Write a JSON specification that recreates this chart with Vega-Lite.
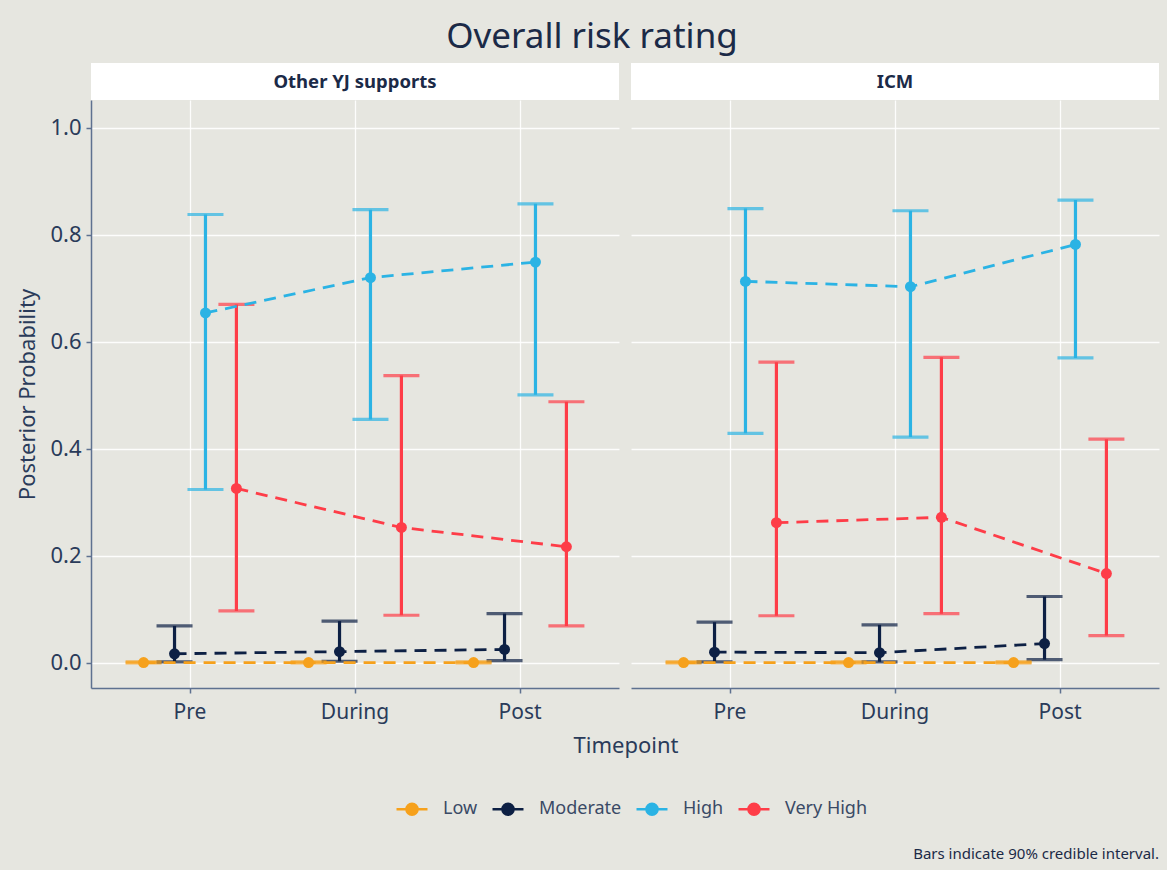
{
  "$schema": "https://vega.github.io/schema/vega-lite/v6.json",
  "background": "#E6E6E0",
  "padding": {"left": 16, "top": 20, "right": 8, "bottom": 8},
  "title": {"text": "Overall risk rating", "fontSize": 35, "font": "Noto Sans", "fontWeight": "normal", "color": "#1B2A47", "anchor": "middle", "offset": 8, "dx": 4},
  "datasets": {
    "est": [
      {"panel": "Other YJ supports", "time": "Pre", "risk": "Low", "est": 0.0005, "lo": 0.0, "hi": 0.002},
      {"panel": "Other YJ supports", "time": "During", "risk": "Low", "est": 0.0005, "lo": 0.0, "hi": 0.002},
      {"panel": "Other YJ supports", "time": "Post", "risk": "Low", "est": 0.0005, "lo": 0.0, "hi": 0.002},
      {"panel": "Other YJ supports", "time": "Pre", "risk": "Moderate", "est": 0.017, "lo": 0.002, "hi": 0.069},
      {"panel": "Other YJ supports", "time": "During", "risk": "Moderate", "est": 0.021, "lo": 0.003, "hi": 0.078},
      {"panel": "Other YJ supports", "time": "Post", "risk": "Moderate", "est": 0.025, "lo": 0.004, "hi": 0.092},
      {"panel": "Other YJ supports", "time": "Pre", "risk": "High", "est": 0.654, "lo": 0.324, "hi": 0.838},
      {"panel": "Other YJ supports", "time": "During", "risk": "High", "est": 0.720, "lo": 0.455, "hi": 0.847},
      {"panel": "Other YJ supports", "time": "Post", "risk": "High", "est": 0.749, "lo": 0.501, "hi": 0.858},
      {"panel": "Other YJ supports", "time": "Pre", "risk": "Very High", "est": 0.326, "lo": 0.097, "hi": 0.670},
      {"panel": "Other YJ supports", "time": "During", "risk": "Very High", "est": 0.253, "lo": 0.089, "hi": 0.537},
      {"panel": "Other YJ supports", "time": "Post", "risk": "Very High", "est": 0.217, "lo": 0.069, "hi": 0.488},
      {"panel": "ICM", "time": "Pre", "risk": "Low", "est": 0.0005, "lo": 0.0, "hi": 0.002},
      {"panel": "ICM", "time": "During", "risk": "Low", "est": 0.0005, "lo": 0.0, "hi": 0.002},
      {"panel": "ICM", "time": "Post", "risk": "Low", "est": 0.0005, "lo": 0.0, "hi": 0.002},
      {"panel": "ICM", "time": "Pre", "risk": "Moderate", "est": 0.020, "lo": 0.002, "hi": 0.076},
      {"panel": "ICM", "time": "During", "risk": "Moderate", "est": 0.019, "lo": 0.002, "hi": 0.071},
      {"panel": "ICM", "time": "Post", "risk": "Moderate", "est": 0.036, "lo": 0.006, "hi": 0.124},
      {"panel": "ICM", "time": "Pre", "risk": "High", "est": 0.713, "lo": 0.429, "hi": 0.849},
      {"panel": "ICM", "time": "During", "risk": "High", "est": 0.703, "lo": 0.422, "hi": 0.845},
      {"panel": "ICM", "time": "Post", "risk": "High", "est": 0.782, "lo": 0.570, "hi": 0.865},
      {"panel": "ICM", "time": "Pre", "risk": "Very High", "est": 0.262, "lo": 0.088, "hi": 0.562},
      {"panel": "ICM", "time": "During", "risk": "Very High", "est": 0.272, "lo": 0.092, "hi": 0.571},
      {"panel": "ICM", "time": "Post", "risk": "Very High", "est": 0.167, "lo": 0.051, "hi": 0.418}
    ]
  },
  "vconcat": [
    {
      "title": {"text": "Bars indicate 90% credible interval.", "orient": "bottom", "anchor": "end", "fontSize": 15, "font": "Noto Sans", "fontWeight": "normal", "color": "#1B2A47", "offset": 90},
      "vconcat": [
        {
          "title": {"text": "Timepoint", "orient": "bottom", "anchor": "middle", "fontSize": 22, "font": "Noto Sans", "fontWeight": "normal", "color": "#2A3B5A", "offset": 14, "dx": 38},
          "spacing": 12,
          "hconcat": [
            {
              "spacing": 0,
              "vconcat": [
                {
                  "width": 528, "height": 37,
                  "view": {"fill": "white", "stroke": null},
                  "data": {"values": [{"label": "Other YJ supports"}]},
                  "mark": {"type": "text", "font": "Noto Sans", "fontWeight": "bold", "fontSize": 18.5, "color": "#1B2A47"},
                  "encoding": {"text": {"field": "label"}}
                },
                {
                  "width": 528, "height": 588,
                  "data": {"name": "est"},
                  "transform": [{"filter": "datum.panel === 'Other YJ supports'"}],
                  "encoding": {
                    "x": {"field": "time", "type": "nominal", "sort": ["Pre", "During", "Post"],
                          "scale": {"paddingInner": 0.25, "paddingOuter": 0.225},
                          "axis": {"title": null, "labelAngle": 0, "bandPosition": 0.5}},
                    "xOffset": {"field": "risk", "type": "nominal", "sort": ["Low", "Moderate", "High", "Very High"], "scale": {"paddingInner": 0, "paddingOuter": 0}},
                    "color": {"field": "risk", "type": "nominal", "sort": ["Low", "Moderate", "High", "Very High"],
                              "scale": {"domain": ["Low", "Moderate", "High", "Very High"], "range": ["#F6A11C", "#0D2044", "#2BB3E4", "#FE3D48"]},
                              "legend": {"orient": "none", "legendX": 304, "legendY": 729, "direction": "horizontal", "title": null,
                                         "symbolType": "M-1,0H1M-0.36,0A0.36,0.36,0,1,1,0.36,0A0.36,0.36,0,1,1,-0.36,0Z",
                                         "symbolSize": 960, "symbolStrokeWidth": 2.5, "labelFontSize": 18, "labelFont": "Noto Sans", "labelColor": "#3A4A66", "columnPadding": 9, "labelOffset": 14,
                                         "encode": {"symbols": {"update": {"fill": {"scale": "color", "field": "value"}, "stroke": {"scale": "color", "field": "value"}, "opacity": {"value": 1}}}}}}
                  },
                  "layer": [
                    {"mark": {"type": "rule", "strokeWidth": 3.2}, "encoding": {"y": {"field": "lo", "type": "quantitative", "scale": {"domain": [-0.047, 1.052], "nice": false, "zero": false}, "axis": {"title": "Posterior Probability", "values": [0, 0.2, 0.4, 0.6, 0.8, 1.0], "format": ".1f", "titleFontSize": 22, "titlePadding": 10}}, "y2": {"field": "hi"}}},
                    {"mark": {"type": "tick", "orient": "horizontal", "size": 36, "thickness": 3.2}, "encoding": {"y": {"field": "lo", "type": "quantitative"}}},
                    {"mark": {"type": "tick", "orient": "horizontal", "size": 36, "thickness": 3.2}, "encoding": {"y": {"field": "hi", "type": "quantitative"}}},
                    {"mark": {"type": "line", "strokeWidth": 2.8, "strokeDash": [12, 8]}, "encoding": {"y": {"field": "est", "type": "quantitative"}}},
                    {"mark": {"type": "point", "filled": true, "size": 120, "opacity": 1}, "encoding": {"y": {"field": "est", "type": "quantitative"}}}
                  ]
                }
              ]
            },
            {
              "spacing": 0,
              "vconcat": [
                {
                  "width": 528, "height": 37,
                  "view": {"fill": "white", "stroke": null},
                  "data": {"values": [{"label": "ICM"}]},
                  "mark": {"type": "text", "font": "Noto Sans", "fontWeight": "bold", "fontSize": 18.5, "color": "#1B2A47"},
                  "encoding": {"text": {"field": "label"}}
                },
                {
                  "width": 528, "height": 588,
                  "data": {"name": "est"},
                  "transform": [{"filter": "datum.panel === 'ICM'"}],
                  "encoding": {
                    "x": {"field": "time", "type": "nominal", "sort": ["Pre", "During", "Post"],
                          "scale": {"paddingInner": 0.25, "paddingOuter": 0.225},
                          "axis": {"title": null, "labelAngle": 0, "bandPosition": 0.5}},
                    "xOffset": {"field": "risk", "type": "nominal", "sort": ["Low", "Moderate", "High", "Very High"], "scale": {"paddingInner": 0, "paddingOuter": 0}},
                    "color": {"field": "risk", "type": "nominal", "sort": ["Low", "Moderate", "High", "Very High"],
                              "scale": {"domain": ["Low", "Moderate", "High", "Very High"], "range": ["#F6A11C", "#0D2044", "#2BB3E4", "#FE3D48"]},
                              "legend": {"orient": "none", "legendX": 304, "legendY": 729, "direction": "horizontal", "title": null,
                                         "symbolType": "M-1,0H1M-0.36,0A0.36,0.36,0,1,1,0.36,0A0.36,0.36,0,1,1,-0.36,0Z",
                                         "symbolSize": 960, "symbolStrokeWidth": 2.5, "labelFontSize": 18, "labelFont": "Noto Sans", "labelColor": "#3A4A66", "columnPadding": 9, "labelOffset": 14,
                                         "encode": {"symbols": {"update": {"fill": {"scale": "color", "field": "value"}, "stroke": {"scale": "color", "field": "value"}, "opacity": {"value": 1}}}}}}
                  },
                  "layer": [
                    {"mark": {"type": "rule", "strokeWidth": 3.2}, "encoding": {"y": {"field": "lo", "type": "quantitative", "scale": {"domain": [-0.047, 1.052], "nice": false, "zero": false}, "axis": {"title": null, "values": [0, 0.2, 0.4, 0.6, 0.8, 1.0], "labels": false, "ticks": false, "domain": false}}, "y2": {"field": "hi"}}},
                    {"mark": {"type": "tick", "orient": "horizontal", "size": 36, "thickness": 3.2}, "encoding": {"y": {"field": "lo", "type": "quantitative"}}},
                    {"mark": {"type": "tick", "orient": "horizontal", "size": 36, "thickness": 3.2}, "encoding": {"y": {"field": "hi", "type": "quantitative"}}},
                    {"mark": {"type": "line", "strokeWidth": 2.8, "strokeDash": [12, 8]}, "encoding": {"y": {"field": "est", "type": "quantitative"}}},
                    {"mark": {"type": "point", "filled": true, "size": 120, "opacity": 1}, "encoding": {"y": {"field": "est", "type": "quantitative"}}}
                  ]
                }
              ]
            }
          ]
        }
      ]
    }
  ],
  "config": {
    "view": {"stroke": null, "fill": "#E6E6E0"},
    "font": "Noto Sans",
    "axis": {"labelFont": "Noto Sans", "titleFont": "Noto Sans", "labelColor": "#2A3B5A", "titleColor": "#2A3B5A", "titleFontWeight": "normal",
             "labelFontSize": 22, "domainColor": "#5E7190", "domainWidth": 1.5, "tickColor": "#5E7190", "tickWidth": 1.5, "tickSize": 5,
             "gridColor": "#FFFFFF", "gridWidth": 1.3, "gridOpacity": 0.9, "labelPadding": 5},
    "axisX": {"labelFontSize": 21, "labelPadding": 8, "grid": true},
    "axisY": {"grid": true}
  }
}
